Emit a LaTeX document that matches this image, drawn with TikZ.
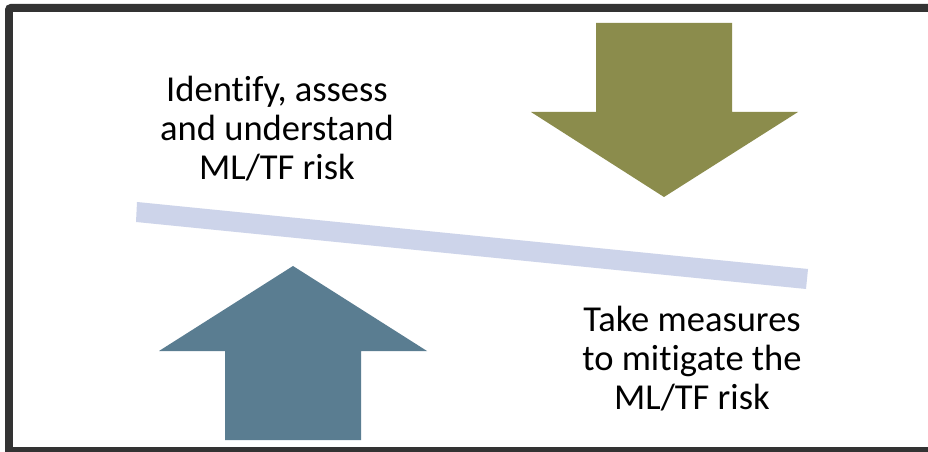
\documentclass[tikz,border=0pt]{standalone}
\usepackage{fontspec}
\setmainfont{Carlito}[Ligatures=NoCommon]
\definecolor{olive}{HTML}{8B8C4C}
\definecolor{steel}{HTML}{5A7D91}
\definecolor{beam}{HTML}{CDD4EA}
\definecolor{frame}{HTML}{333333}
\begin{document}
\begin{tikzpicture}[x=0.75pt, y=-0.75pt]
\useasboundingbox (0,0) rectangle (928,452);
\tikzset{label/.style={align=center, font=\fontsize{27.4}{29.25}\selectfont}}
\fill[frame, rounded corners=4pt] (5,4) rectangle (940,460);
\fill[white] (13,12) rectangle (940,447);
\fill[beam] (137,202) -- (808,269) -- (806,289) -- (136,222) -- cycle;
\fill[olive] (596,23) -- (732,23) -- (732,112) -- (798,112) -- (664,197) -- (531,112) -- (596,112) -- cycle;
\fill[steel] (225,440) -- (361,440) -- (361,351) -- (427,351) -- (293,266) -- (159,351) -- (225,351) -- cycle;
\node[label] (identify) at (277,129) {Identify, assess\\and understand\\ML/TF risk};
\node[label] (mitigate) at (692,359) {Take measures\\to mitigate the\\ML/TF risk};
\end{tikzpicture}
\end{document}
